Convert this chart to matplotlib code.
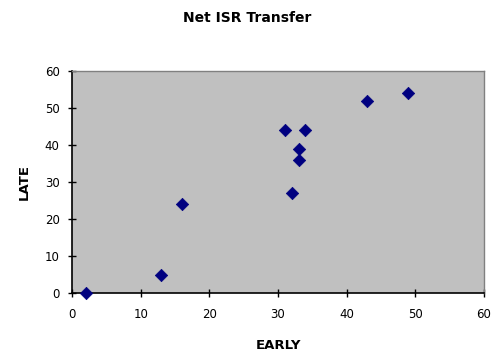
import matplotlib
matplotlib.use("Agg")
import matplotlib.pyplot as plt

# data
early = [2, 13, 16, 31, 34, 33, 33, 32, 43, 49]
late = [0, 5, 24, 44, 44, 39, 36, 27, 52, 54]
x_ticks = [0, 10, 20, 30, 40, 50, 60]
y_ticks = [0, 10, 20, 30, 40, 50, 60]

fig = plt.figure(figsize=(4.95, 3.54), dpi=100)
ax = fig.add_axes([0.1455, 0.1723, 0.8323, 0.6271])
ax.set_facecolor("#C0C0C0")

ax.scatter(early, late, marker="D", s=40, color="#000080", edgecolors="#000080",
           linewidths=0.5, zorder=3, clip_on=False)

ax.set_xlim(0, 60)
ax.set_ylim(0, 60)
ax.set_xticks(x_ticks)
ax.set_yticks(y_ticks)
ax.tick_params(direction="inout", length=6, width=1, labelsize=8.5, colors="black")
ax.tick_params(axis="x", pad=8)
ax.tick_params(axis="y", pad=6)

for side in ["left", "bottom"]:
    ax.spines[side].set_color("black")
    ax.spines[side].set_linewidth(1.2)
for side in ["top", "right"]:
    ax.spines[side].set_color("#808080")
    ax.spines[side].set_linewidth(1)

fig.text(0.5, 0.95, "Net ISR Transfer", ha="center", va="center",
         fontsize=10, fontweight="bold")
ax.set_xlabel("EARLY", fontsize=9.5, fontweight="bold", labelpad=13)
ax.set_ylabel("LATE", fontsize=9.5, fontweight="bold", labelpad=10)

plt.savefig("out.png", dpi=100)
